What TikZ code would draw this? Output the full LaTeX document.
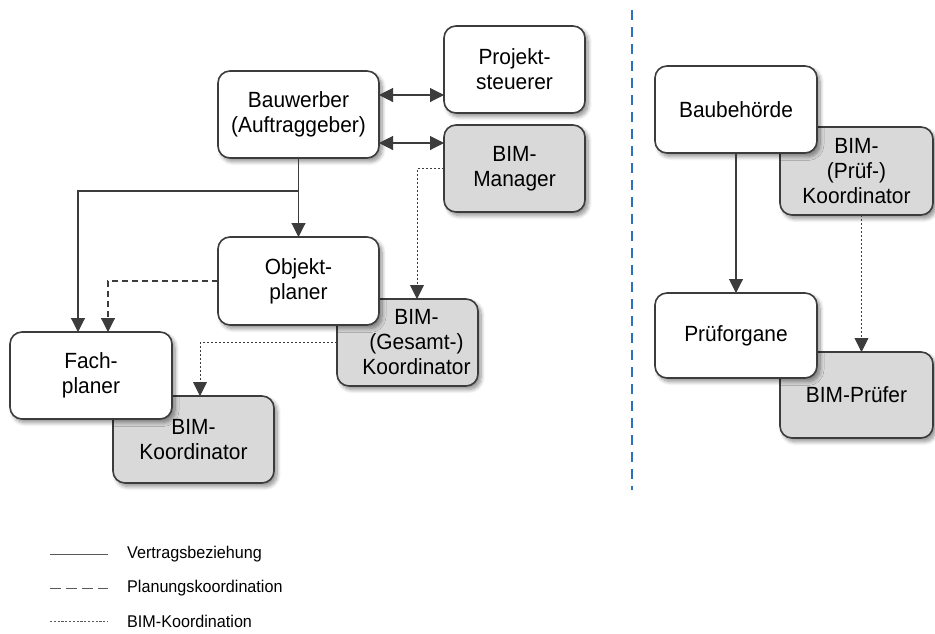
\documentclass[tikz,border=0pt]{standalone}
\usepackage{fontspec}
\setmainfont{Liberation Sans}[FakeStretch=0.95]
\usetikzlibrary{arrows.meta,shadows.blur}

\definecolor{edge}{HTML}{3C3C3C}
\definecolor{boxgray}{HTML}{D9D9D9}
\definecolor{sepblue}{HTML}{2A72C0}

\tikzset{
  role/.style={draw=edge, line width=1.6pt, rounded corners=12pt, inner sep=0pt, outer sep=0pt,
    align=center, font=\fontsize{22}{25}\selectfont,
    blur shadow={shadow xshift=3pt, shadow yshift=-3.5pt, shadow blur steps=8, shadow blur radius=4pt, shadow opacity=45}},
  party/.style={role, fill=white},
  bimrole/.style={role, fill=boxgray},
  head/.style={Triangle[length=14pt,width=14pt]},
  tip/.style={-{Triangle[length=14pt,width=14pt]}},
  conn/.style={draw=edge, line width=1.1pt},
  contract/.style={conn, tip},
  planning/.style={conn, tip, dash pattern=on 6pt off 4pt},
  bimcoord/.style={conn, tip, line width=0.9pt, dash pattern=on 2.4pt off 1.6pt},
  legline/.style={draw=edge!85, line width=0.9pt},
  legtext/.style={anchor=west, inner sep=0pt, font=\fontsize{17}{20}\selectfont}
}

\begin{document}
\begin{tikzpicture}[x=1pt, y=-1pt]
\useasboundingbox (0,0) rectangle (935,633);

% BIM roles sit behind their parties
\node[bimrole, minimum width=141pt, minimum height=87pt] (manager) at (514.5,168.5) {BIM-\\Manager};
\node[bimrole, minimum width=141pt, minimum height=87pt, text width=141pt] (gesamt) at (407.5,342.5) {\hspace*{18pt}BIM-\\\hspace*{18pt}(Gesamt-)\\\hspace*{18pt}Koordinator};
\node[bimrole, minimum width=161pt, minimum height=87pt] (bimkoord) at (193.5,439.5) {BIM-\\Koordinator};
\node[bimrole, minimum width=153pt, minimum height=88pt] (pruefkoord) at (856.5,171) {BIM-\\(Prüf-)\\Koordinator};
\node[bimrole, minimum width=153pt, minimum height=86pt] (bimpruefer) at (856.5,395) {BIM-Prüfer};

% parties
\node[party, minimum width=161pt, minimum height=87pt] (bauwerber) at (298.5,114.5) {Bauwerber\\(Auftraggeber)};
\node[party, minimum width=141pt, minimum height=87pt] (projekt) at (514.5,69.5) {Projekt-\\steuerer};
\node[party, minimum width=161pt, minimum height=88pt] (objekt) at (298.5,281) {Objekt-\\planer};
\node[party, minimum width=162pt, minimum height=87pt] (fach) at (91,375.5) {Fach-\\planer};
\node[party, minimum width=162pt, minimum height=87pt] (baubeh) at (736,109.5) {Baubehörde};
\node[party, minimum width=162pt, minimum height=85pt] (pruef) at (736,335.5) {Prüforgane};

% contracts
\draw[conn, {Triangle[length=14pt,width=14pt]}-{Triangle[length=14pt,width=14pt]}]
  ([yshift=19.5pt]bauwerber.east) -- ([yshift=19.5pt]bauwerber.east -| projekt.west);
\draw[conn, {Triangle[length=14pt,width=14pt]}-{Triangle[length=14pt,width=14pt]}]
  ([yshift=-28.5pt]bauwerber.east) -- ([yshift=-28.5pt]bauwerber.east -| manager.west);
\coordinate (split) at (298.5,191);
\draw[contract] (bauwerber.south) -- (objekt.north);
\draw[contract] (split) -| ([xshift=-13pt]fach.north);
\draw[contract] (baubeh.south) -- (pruef.north);

% planning coordination
\draw[planning] (objekt.west) -| ([xshift=17pt]fach.north);

% BIM coordination
\draw[bimcoord] (manager.west) -| ([xshift=9.5pt]gesamt.north);
\draw[bimcoord] (gesamt.west) -| ([xshift=6.5pt]bimkoord.north);
\draw[bimcoord] ([xshift=5pt]pruefkoord.south) -- ([xshift=5pt]bimpruefer.north);

% divider
\coordinate (divtop) at (632,10);
\coordinate (divbot) at (632,490);
\draw[sepblue, line width=2.2pt, dash pattern=on 10pt off 7pt] (divtop) -- (divbot);

% legend
\coordinate (l1) at (50,554);
\coordinate (l2) at (50,588);
\coordinate (l3) at (50,621);
\draw[legline] (l1) -- ++(58,0);
\draw[legline, dash pattern=on 11pt off 5pt] (l2) -- ++(58,0);
\draw[legline, line width=0.7pt, dash pattern=on 2.2pt off 1.6pt] (l3) -- ++(58,0);
\node[legtext] (t1) at (127,554) {Vertragsbeziehung};
\node[legtext] (t2) at (127,588) {Planungskoordination};
\node[legtext] (t3) at (127,621) {BIM-Koordination};
\end{tikzpicture}
\end{document}
